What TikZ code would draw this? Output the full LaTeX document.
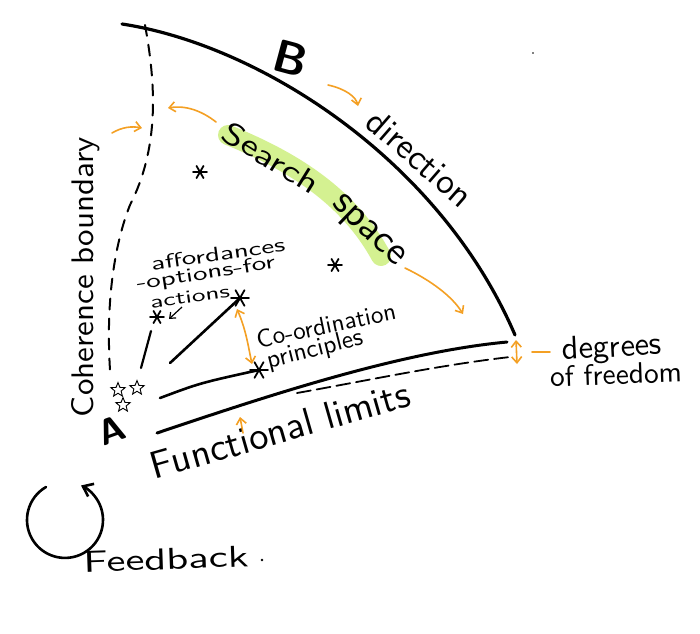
\documentclass[tikz,border=0pt]{standalone}
\usepackage{fontspec}
\usepackage{graphicx}
\usetikzlibrary{arrows.meta,shapes.geometric}
\definecolor{org}{HTML}{F4A024}
\definecolor{hl}{HTML}{D4F191}
\newcommand\hw[2]{\resizebox{#1pt}{!}{\sffamily\addfontfeature{LetterSpace=12}#2}}
\newcommand\hwh[3]{\resizebox{#1pt}{#2pt}{\sffamily\addfontfeature{LetterSpace=12}#3}}
\tikzset{
  pics/astr/.style={code={\draw[line width=1.8pt,line cap=round] (-#1,0)--(#1,0) (-0.5*#1,-0.87*#1)--(0.5*#1,0.87*#1) (-0.5*#1,0.87*#1)--(0.5*#1,-0.87*#1);}},
}
\begin{document}
\begin{tikzpicture}[x=1pt,y=-1pt,
  bound/.style={line width=3.2pt,line cap=round},
  ink/.style={line width=2.6pt,line cap=round},
  dashb/.style={line width=2pt,dash pattern=on 11pt off 9pt,line cap=round},
  dashl/.style={line width=1.8pt,dash pattern=on 14pt off 6pt,line cap=round},
  oarr/.style={org,line width=1.6pt,line cap=round,-{Straight Barb[length=6pt,width=10pt]}},
  oarrb/.style={org,line width=1.6pt,line cap=round,{Straight Barb[length=6pt,width=10pt]}-{Straight Barb[length=6pt,width=10pt]}},
  lbl/.style={inner sep=0pt},
  ostar/.style={star,star points=5,star point ratio=2.3,draw,line width=0.9pt,minimum size=15pt,inner sep=0pt},
]
\path[use as bounding box,fill=white] (0,0) rectangle (700,633);

% highlight for search space
\coordinate (h1) at (228,135);
\coordinate (h2) at (381,256);
\draw[hl,line width=20pt,line cap=round] (h1) .. controls (290,160) and (348,195) .. (h2);

% top boundary arc
\coordinate (top1) at (122,24);
\coordinate (top2) at (515,335);
\draw[bound] (top1) .. controls (260,45) and (440,160) .. (top2);

% coherence boundary (dashed)
\coordinate (c1) at (145,25);
\coordinate (c2) at (110,370);
\draw[dashb] (c1) .. controls (157,90) and (158,150) .. (130,205) .. controls (118,235) and (105,290) .. (c2);

% functional limits line
\coordinate (f1) at (157,433);
\coordinate (f2) at (507,342);
\draw[ink,line width=3pt] (f1) .. controls (270,395) and (400,352) .. (f2);
\coordinate (d1) at (297,393);
\coordinate (d2) at (510,357);
\draw[dashl] (d1) .. controls (370,380) and (440,365) .. (d2);

% stars
\coordinate (s1) at (200,172);
\coordinate (s2) at (335,265);
\coordinate (s3) at (240,298);
\coordinate (s4) at (259,370);
\coordinate (s5) at (157,317);
\pic at (s1) {astr=7};
\pic at (s2) {astr=7};
\pic at (s3) {astr=9};
\pic at (s4) {astr=9};
\pic at (s5) {astr=7};
\node[ostar] (o1) at (118,390) {};
\node[ostar] (o2) at (137,388) {};
\node[ostar] (o3) at (123,405) {};

% inner lines
\coordinate (l1a) at (160,398);
\draw[ink] (l1a) .. controls (200,383) .. (s4);
\coordinate (l2a) at (170,363);
\draw[ink] (l2a) -- (s3);
\coordinate (l3a) at (141,368);
\coordinate (l3b) at (151,331);
\draw[ink,line width=2.2pt] (l3a) -- (l3b);

% letters A and B
\node[rotate=20] (A) at (112,430) {\fontsize{36}{36}\selectfont\sffamily\bfseries A};
\node[rotate=-15] (B) at (291,58) {\fontsize{46}{46}\selectfont\sffamily\bfseries B};

% search space text
\node[lbl,rotate=-32] (srch) at (271,158) {\hwh{108}{22}{Search}};
\node[lbl,rotate=-44] (spc) at (367,232) {\hwh{90}{18}{space}};

% labels
\node[lbl,rotate=90] (coh) at (86,277) {\hwh{280}{22}{Coherence boundary}};
\node[lbl,rotate=-41] (dir) at (420,158) {\hw{128}{direction}};
\node[lbl,rotate=8] (aff) at (218,254) {\hwh{135}{14}{affordances}};
\node[lbl,rotate=9] (opt) at (206,274) {\hwh{140}{14}{-options-for}};
\node[lbl,rotate=8] (act) at (190,297) {\hwh{80}{12}{actions}};
\node[lbl,rotate=12] (coo) at (326,325) {\hw{142}{Co-ordination}};
\node[lbl,rotate=14] (pri) at (315,350) {\hw{98}{principles}};
\node[lbl,rotate=3] (deg) at (612,349) {\hw{100}{degrees}};
\node[lbl,rotate=2] (fre) at (616,374) {\hw{132}{of freedom}};
\node[lbl,rotate=16] (fun) at (280,430) {\hw{268}{Functional limits}};
\node[lbl,rotate=2] (fb) at (166,559) {\hwh{165}{21}{Feedback}};
\fill (262,560) circle (1.4);
\fill (533,53) circle (0.9);

% orange arrows
\coordinate (a1s) at (328,85);  \coordinate (a1e) at (358,106);
\draw[oarr] (a1s) .. controls (346,89) and (356,97) .. (a1e);
\coordinate (a2s) at (216,122); \coordinate (a2e) at (168,108);
\draw[oarr] (a2s) .. controls (202,111) and (186,105) .. (a2e);
\coordinate (a3s) at (112,133); \coordinate (a3e) at (142,128);
\draw[oarr] (a3s) .. controls (122,127) and (132,126) .. (a3e);
\coordinate (a4s) at (405,268); \coordinate (a4e) at (463,314);
\draw[oarr] (a4s) .. controls (430,280) and (452,296) .. (a4e);
\coordinate (a5s) at (237,309); \coordinate (a5e) at (252,364);
\draw[oarrb] (a5s) .. controls (246,330) and (248,345) .. (a5e);
\coordinate (a6s) at (516,340); \coordinate (a6e) at (517,364);
\draw[oarrb] (a6s) -- (a6e);
\coordinate (a7s) at (532,352); \coordinate (a7e) at (550,352);
\draw[org,line width=1.6pt,line cap=round] (a7s) -- (a7e);
\coordinate (a8s) at (243,433); \coordinate (a8e) at (240,417);
\draw[oarr] (a8s) -- (a8e);

% small black arrow to star
\coordinate (b1s) at (182,307);
\coordinate (b1e) at (169,319);
\draw[line width=1.2pt,-{Straight Barb[length=5pt,width=8pt]}] (b1s) -- (b1e);

% feedback loop
\coordinate (fbs) at (46,487);
\draw[line width=2.6pt,line cap=round,-{Straight Barb[length=9pt,width=14pt]}]
  (fbs) arc[start angle=-120,end angle=-425,radius=38];
\end{tikzpicture}
\end{document}
